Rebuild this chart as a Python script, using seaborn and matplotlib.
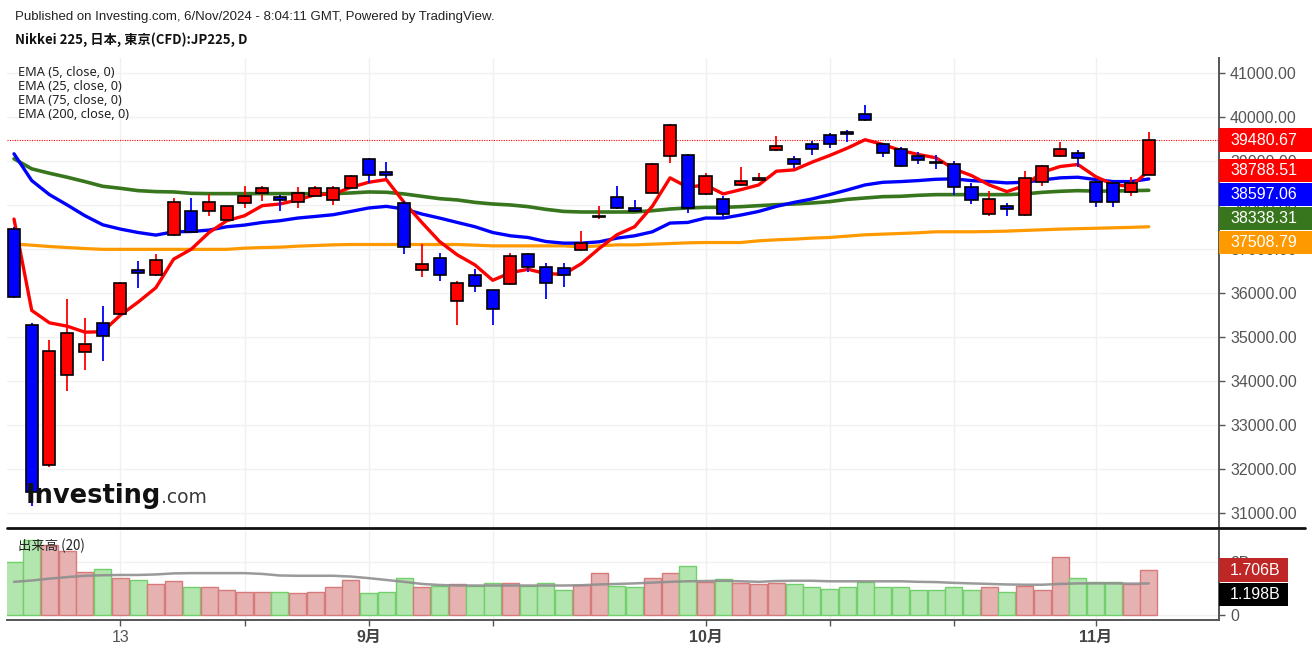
import numpy as np
import pandas as pd
import matplotlib
matplotlib.use("Agg")
import matplotlib.pyplot as plt
import seaborn as sns
from matplotlib.patches import Rectangle
from matplotlib.lines import Line2D

# ---------------- data ----------------
opens = [37456, 35269, 32084, 34126, 34651, 35307, 35513, 36533, 36405, 37326,
         37874, 37874, 37662, 38050, 38286, 38187, 38080, 38217, 38119, 38392,
         39040, 38766, 38041, 36533, 36807, 35817, 36404, 36061, 36198, 36884,
         36602, 36579, 36983, 37721, 38179, 37936, 38285, 39109, 39147, 38258,
         38141, 38461, 38583, 39246, 39040, 39383, 39605, 39665, 40069, 39399,
         39285, 39109, 38994, 38942, 38423, 37799, 37989, 37767, 38537, 39116,
         39184, 38522, 38510, 38293, 38697]
highs = [37510, 35307, 34942, 35856, 35422, 35703, 36260, 36731, 36884, 38165,
         38165, 38256, 37990, 38430, 38446, 38240, 38407, 38430, 38430, 38680,
         39078, 38987, 38103, 37127, 36921, 36274, 36541, 36080, 36921, 36921,
         36693, 36693, 37417, 37989, 38446, 38126, 38960, 39850, 39170, 38743,
         38217, 38864, 38727, 39566, 39109, 39458, 39642, 39718, 40290, 39420,
         39323, 39207, 39147, 38999, 38498, 38331, 38050, 38789, 38920, 39429,
         39261, 38540, 38530, 38636, 39673]
lows = [35880, 31156, 32050, 33776, 34256, 34462, 35480, 36121, 36380, 37300,
        37360, 37744, 37640, 37936, 38103, 37858, 37936, 38190, 38005, 38380,
        38498, 38622, 36899, 36373, 36274, 35284, 36030, 35284, 36180, 36487,
        35870, 36144, 36960, 37685, 37920, 37850, 38270, 38955, 37822, 38240,
        37721, 38440, 38545, 39230, 38850, 39131, 39310, 39436, 39910, 39093,
        38880, 38926, 38827, 38240, 38027, 37753, 37753, 37750, 38446, 39100,
        38865, 37966, 37966, 38210, 38680]
closes = [35915, 31474, 34690, 35093, 34850, 35033, 36222, 36464, 36747, 38080,
          37394, 38080, 37973, 38217, 38384, 38126, 38286, 38384, 38384, 38659,
          38697, 38697, 37051, 36670, 36404, 36222, 36160, 35641, 36846, 36602,
          36222, 36404, 37143, 37744, 37936, 37867, 38942, 39833, 37936, 38667,
          37799, 38560, 38613, 39344, 38942, 39285, 39383, 39619, 39931, 39184,
          38903, 39017, 38965, 38423, 38119, 38141, 37920, 38622, 38903, 39276,
          39070, 38080, 38070, 38499, 39480.67]

ema5 = [37684, 35604, 35322, 35246, 35109, 35120, 35497, 35794, 36121, 36770,
        36999, 37378, 37646, 37760, 37989, 38027, 38119, 38240, 38250, 38407,
        38521, 38583, 38064, 37607, 37173, 36869, 36640, 36290, 36464, 36541,
        36441, 36427, 36670, 37013, 37326, 37509, 37975, 38622, 38407, 38461,
        38256, 38354, 38461, 38773, 38804, 38978, 39131, 39299, 39490, 39383,
        39246, 39154, 39078, 38827, 38674, 38461, 38309, 38446, 38750, 38880,
        38926, 38651, 38469, 38423, 38788.51]
ema25 = [39170, 38560, 38240, 38005, 37760, 37554, 37456, 37378, 37319, 37394,
         37401, 37433, 37509, 37547, 37607, 37646, 37707, 37744, 37783, 37858,
         37936, 37973, 37913, 37799, 37707, 37607, 37509, 37378, 37303, 37264,
         37173, 37136, 37136, 37166, 37250, 37303, 37394, 37593, 37607, 37707,
         37707, 37776, 37858, 37973, 38064, 38141, 38240, 38347, 38461, 38521,
         38537, 38560, 38590, 38599, 38560, 38537, 38507, 38522, 38575, 38622,
         38636, 38583, 38537, 38537, 38597.06]
ema75 = [39056, 38827, 38727, 38636, 38537, 38430, 38384, 38331, 38309, 38301,
         38270, 38263, 38263, 38263, 38263, 38263, 38263, 38260, 38262, 38278,
         38301, 38294, 38256, 38202, 38149, 38119, 38064, 38027, 38005, 37966,
         37905, 37858, 37845, 37845, 37845, 37845, 37874, 37913, 37936, 37951,
         37951, 37966, 37989, 38011, 38027, 38050, 38080, 38133, 38164, 38194,
         38202, 38225, 38240, 38240, 38240, 38240, 38240, 38256, 38293, 38316,
         38331, 38320, 38322, 38330, 38338.31]
ema200 = [37113, 37090, 37059, 37036, 37013, 36995, 36995, 36995, 36995, 36995,
          36995, 36995, 36995, 37021, 37036, 37044, 37067, 37082, 37097, 37105,
          37105, 37105, 37105, 37105, 37105, 37105, 37090, 37074, 37074, 37074,
          37074, 37074, 37051, 37074, 37097, 37097, 37112, 37127, 37143, 37150,
          37150, 37150, 37189, 37212, 37227, 37250, 37265, 37296, 37326, 37341,
          37356, 37372, 37395, 37395, 37394, 37400, 37410, 37425, 37440, 37455,
          37465, 37475, 37485, 37495, 37508.79]

volume_b = [2.02, 2.85, 2.66, 2.44, 1.62, 1.73, 1.39, 1.33, 1.18, 1.28,
            1.05, 1.05, 0.94, 0.88, 0.88, 0.88, 0.82, 0.88, 1.05, 1.33,
            0.82, 0.88, 1.39, 1.05, 1.10, 1.18, 1.10, 1.23, 1.23, 1.10,
            1.23, 0.95, 1.13, 1.58, 1.10, 1.05, 1.39, 1.58, 1.86, 1.26,
            1.35, 1.23, 1.18, 1.23, 1.18, 1.05, 1.00, 1.05, 1.26, 1.05,
            1.05, 0.94, 0.94, 1.05, 0.94, 1.05, 0.88, 1.10, 0.94, 2.19,
            1.39, 1.26, 1.26, 1.18, 1.706]
volume_ma = [1.26, 1.31, 1.38, 1.44, 1.49, 1.51, 1.52, 1.52, 1.54, 1.58,
             1.59, 1.59, 1.59, 1.59, 1.56, 1.50, 1.49, 1.49, 1.49, 1.46,
             1.40, 1.33, 1.26, 1.18, 1.14, 1.12, 1.12, 1.12, 1.12, 1.12,
             1.12, 1.12, 1.13, 1.16, 1.18, 1.20, 1.23, 1.26, 1.28, 1.29,
             1.30, 1.28, 1.26, 1.29, 1.30, 1.30, 1.28, 1.28, 1.28, 1.28,
             1.28, 1.26, 1.25, 1.22, 1.20, 1.18, 1.16, 1.15, 1.15, 1.18,
             1.20, 1.20, 1.20, 1.19, 1.198]

tick_pos = [6, 13, 20, 27, 39, 46, 53, 61]
tick_labels = ["13", "", "9月", "", "10月", "", "", "11月"]
price_ticks = list(range(31000, 42000, 1000))

title_top = "Published on Investing.com, 6/Nov/2024 - 8:04:11 GMT, Powered by TradingView."
title_sym = "Nikkei 225, 日本, 東京(CFD):JP225, D"
ema_names = ["EMA (5, close, 0)", "EMA (25, close, 0)", "EMA (75, close, 0)", "EMA (200, close, 0)"]
vol_name = "出来高 (20)"

# ---------------- styling ----------------
sns.set_theme(style="white")
plt.rcParams['font.family'] = ['Liberation Sans', 'Noto Sans CJK JP', 'DejaVu Sans']

W, H, DPI = 1312, 654, 100
C_UP, C_DN = '#ff0000', '#0000ff'
C_E5, C_E25, C_E75, C_E200 = '#ff0000', '#0000ff', '#38761d', '#ff9900'
GRID = '#f0f0f0'
AXC = '#555555'

n = len(closes)
idx = np.arange(n)
df = pd.DataFrame({'i': idx, 'open': opens, 'high': highs, 'low': lows, 'close': closes,
                   'ema5': ema5, 'ema25': ema25, 'ema75': ema75, 'ema200': ema200,
                   'vol': volume_b, 'vma': volume_ma})
df['up'] = df['close'] >= df['open']

fig = plt.figure(figsize=(W / DPI, H / DPI), dpi=DPI)
fig.patch.set_facecolor('white')

def fx(px):
    return px / W

def fy(py):
    return 1 - py / H

LEFT, RIGHT = 7, 1219
ax = fig.add_axes([fx(LEFT), fy(527), (RIGHT - LEFT) / W, (527 - 58) / H])
axv = fig.add_axes([fx(LEFT), fy(620), (RIGHT - LEFT) / W, (620 - 531) / H], sharex=ax)

for a in (ax, axv):
    a.set_facecolor('white')
    for s in ('top', 'left', 'bottom'):
        a.spines[s].set_visible(False)
    a.spines['right'].set_color(AXC)
    a.spines['right'].set_linewidth(1.4)
axv.spines['bottom'].set_visible(True)
axv.spines['bottom'].set_color(AXC)
axv.spines['bottom'].set_linewidth(1.4)

# grid lines
for a in (ax, axv):
    for t in tick_pos:
        a.axvline(t, color=GRID, lw=1, zorder=0)
for p in price_ticks:
    ax.axhline(p, color=GRID, lw=1, zorder=0)
for v in (0, 2):
    axv.axhline(v, color=GRID, lw=1, zorder=0)

# EMA lines
for col, colr, lw in (('ema200', C_E200, 2.3), ('ema75', C_E75, 2.6),
                      ('ema25', C_E25, 2.4), ('ema5', C_E5, 2.4)):
    sns.lineplot(data=df, x='i', y=col, ax=ax, color=colr, lw=lw, zorder=3,
                 legend=False, estimator=None)

# candles
fill = np.where(df['up'], C_UP, C_DN)
ax.vlines(df['i'], df['low'], df['high'], colors=fill, lw=1.3, zorder=4)
body_lo = np.minimum(df['open'], df['close'])
body_h = np.maximum(np.abs(df['close'] - df['open']), 20)
ax.bar(df['i'], body_h, bottom=body_lo, width=0.68, color=fill,
       edgecolor='black', linewidth=1.2, zorder=5)

# last price dotted line
ax.axhline(closes[-1], color='#ff0000', lw=0.8, ls=(0, (1, 1.2)), zorder=2)

ax.set_xlim(-0.395, 67.96)
ax.set_ylim(30675, 41350)
ax.yaxis.tick_right()
ax.set_yticks(price_ticks)
ax.set_yticklabels([f"{p:.2f}" for p in price_ticks])
ax.tick_params(axis='y', right=True, left=False, length=4, width=1, color=AXC,
               labelcolor=AXC, labelsize=11.5, pad=4)
ax.tick_params(axis='x', bottom=False, labelbottom=False)
ax.set_xlabel('')
ax.set_ylabel('')

# volume
vfill = np.where(df['up'], '#e6b1b1', '#b2e6ae')
vedge = np.where(df['up'], '#d67a7a', '#72cf6c')
axv.bar(df['i'], df['vol'], width=0.96, color=vfill, edgecolor=vedge, linewidth=1, zorder=2)
sns.lineplot(data=df, x='i', y='vma', ax=axv, color='#8f8f8f', lw=1.8, alpha=0.9,
             zorder=3, legend=False, estimator=None)
axv.set_ylim(-0.19, 3.19)
axv.yaxis.tick_right()
axv.set_yticks([0, 2])
axv.set_yticklabels(['0', '2B'])
axv.tick_params(axis='y', right=True, left=False, length=4, width=1, color=AXC,
                labelcolor=AXC, labelsize=11.5, pad=4)
axv.set_xticks(tick_pos)
axv.set_xticklabels(tick_labels)
axv.tick_params(axis='x', bottom=True, length=4, width=1, color=AXC, labelcolor=AXC,
                labelsize=11.5, pad=3)
for lab in axv.get_xticklabels():
    if '月' in lab.get_text():
        lab.set_fontweight('bold')
        lab.set_color('#444444')
axv.set_xlabel('')
axv.set_ylabel('')

# pane separator
fig.add_artist(Line2D([fx(LEFT), fx(1305)], [fy(528), fy(528)], color='#111111', lw=2.0))

# texts
fig.text(fx(15), fy(17), title_top, fontsize=9.55, color='#222222', va='center', ha='left')
fig.text(fx(15), fy(40), title_sym, fontsize=9.5, fontweight='bold', color='#111111',
         va='center', ha='left', family=['Noto Sans CJK JP', 'DejaVu Sans'])
for k, name in enumerate(ema_names):
    fig.text(fx(18), fy(73 + 13.7 * k), name, fontsize=9.2, color='#222222',
             va='center', ha='left', family=['Noto Sans', 'DejaVu Sans'])
fig.text(fx(18), fy(546), vol_name, fontsize=9.6, color='#222222', va='center', ha='left',
         family=['Noto Sans CJK JP', 'DejaVu Sans'])

# logo
t1 = fig.text(fx(26), fy(503), "Investing", fontsize=18.5, fontweight='bold', color='#111111',
              va='baseline', ha='left', family=['DejaVu Sans'], zorder=6)
fig.canvas.draw()
bb = t1.get_window_extent()
fig.text(bb.x1 / W, fy(503), ".com", fontsize=13.5, color='#3a3a3a', va='baseline',
         ha='left', family=['DejaVu Sans'], zorder=6)

# right-side value labels with simple collision avoidance
def py_of(axis, val):
    return H - axis.transData.transform((0, val))[1]

def place(items, axis, box_h, x0, x1):
    items = sorted([(py_of(axis, v), txt, c) for v, txt, c in items])
    ys = []
    for py, txt, c in items:
        if ys and py < ys[-1] + box_h + 0.8:
            py = ys[-1] + box_h + 0.8
        ys.append(py)
        fig.patches.append(Rectangle((fx(x0), fy(py + box_h / 2)), (x1 - x0) / W, box_h / H,
                                     transform=fig.transFigure, facecolor=c,
                                     edgecolor='none', zorder=5))
        fig.text(fx(x0 + 11), fy(py), txt, color='white', fontsize=11.5, va='center',
                 ha='left', zorder=6)

price_items = [(closes[-1], f"{closes[-1]:.2f}", '#ff0000'),
               (ema5[-1], f"{ema5[-1]:.2f}", C_E5),
               (ema25[-1], f"{ema25[-1]:.2f}", C_E25),
               (ema75[-1], f"{ema75[-1]:.2f}", C_E75),
               (ema200[-1], f"{ema200[-1]:.2f}", C_E200)]
place(price_items, ax, 23.3, RIGHT, W)
vol_items = [(volume_b[-1], f"{volume_b[-1]:.3f}B", '#bf2626'),
             (volume_ma[-1], f"{volume_ma[-1]:.3f}B", '#000000')]
place(vol_items, axv, 23.3, RIGHT, 1288)

fig.savefig('out.png', dpi=DPI, facecolor='white')
